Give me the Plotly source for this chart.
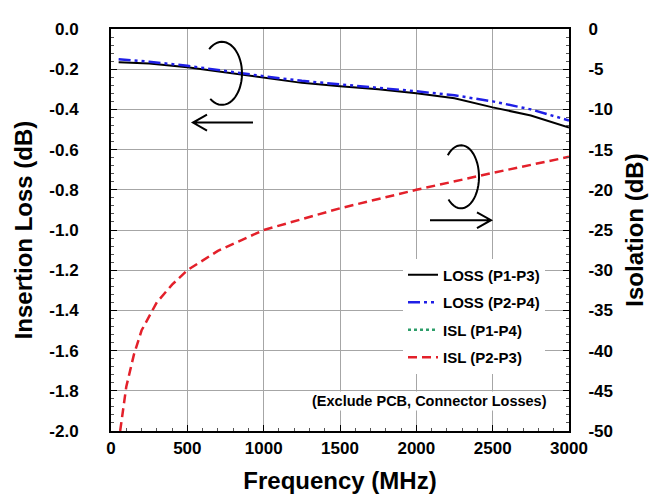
import numpy as np
import plotly.graph_objects as go

# ---------------- data ----------------
freq_loss = [50, 250, 500, 750, 1000, 1250, 1500, 1750, 2000, 2250, 2500, 2750, 3000]
loss_p1p3 = [-0.165, -0.172, -0.19, -0.215, -0.243, -0.268, -0.285, -0.30, -0.32, -0.345, -0.39, -0.43, -0.49]
loss_p2p4 = [-0.15, -0.163, -0.183, -0.21, -0.235, -0.258, -0.275, -0.29, -0.31, -0.33, -0.36, -0.40, -0.455]

freq_iso = [60, 80, 100, 150, 200, 300, 400, 500, 700, 1000, 1500, 2000, 2500, 3000]
iso_p2p3 = [-50, -47, -44.5, -40.5, -37.5, -34, -31.8, -30, -27.6, -25, -22.3, -20, -17.9, -15.9]
# ISL (P1-P4) appears only in the legend (no visible curve in the chart)
iso_p1p4_freq = [None]
iso_p1p4 = [None]

x_ticks = [0, 500, 1000, 1500, 2000, 2500, 3000]
x_ticklabels = ["0", "500", "1000", "1500", "2000", "2500", "3000"]
y1_ticks = [0.0, -0.2, -0.4, -0.6, -0.8, -1.0, -1.2, -1.4, -1.6, -1.8, -2.0]
y1_ticklabels = ["0.0", "-0.2", "-0.4", "-0.6", "-0.8", "-1.0", "-1.2", "-1.4", "-1.6", "-1.8", "-2.0"]
y2_ticks = [0, -5, -10, -15, -20, -25, -30, -35, -40, -45, -50]
y2_ticklabels = ["0", "-5", "-10", "-15", "-20", "-25", "-30", "-35", "-40", "-45", "-50"]

# ---------------- layout geometry ----------------
W, H = 663, 494
L, R, T, B = 103, 561, 15, 423


def px(x, y):
    return (x - L) / (R - L), (B - y) / (B - T)


def ellipse_path(cx, cy, rx, ry, a0, a1, n=40):
    ang = np.radians(np.linspace(a0, a1, n))
    pts = [px(cx + rx * np.cos(a), cy - ry * np.sin(a)) for a in ang]
    return "M " + " L ".join(f"{a:.4f},{b:.4f}" for a, b in pts)


def arrow_path(x0, x1, y, head):
    d = 1 if x1 > x0 else -1
    p = [px(x0, y), px(x1, y), px(x1 - d * head, y - 8), px(x1 - d * head, y + 8)]
    return (f"M {p[0][0]:.4f},{p[0][1]:.4f} L {p[1][0]:.4f},{p[1][1]:.4f} "
            f"M {p[2][0]:.4f},{p[2][1]:.4f} L {p[1][0]:.4f},{p[1][1]:.4f} L {p[3][0]:.4f},{p[3][1]:.4f}")


fig = go.Figure()
fig.add_trace(go.Scatter(x=freq_loss, y=loss_p1p3, name="LOSS (P1-P3)", mode="lines",
                         legendgroup="a", line=dict(color="black", width=2)))
fig.add_trace(go.Scatter(x=freq_loss, y=loss_p2p4, name="LOSS (P2-P4)", mode="lines",
                         legendgroup="b",
                         line=dict(color="#1f1fe6", width=2.5, dash="12px,4px,3px,4px,3px,4px")))
fig.add_trace(go.Scatter(x=iso_p1p4_freq, y=iso_p1p4, name="ISL (P1-P4)", mode="lines",
                         legendgroup="c", yaxis="y2", showlegend=True,
                         line=dict(color="#2e9e6a", width=2.5, dash="dot")))
fig.add_trace(go.Scatter(x=freq_iso, y=iso_p2p3, name="ISL (P2-P3)", mode="lines",
                         legendgroup="d", yaxis="y2",
                         line=dict(color="#e3202a", width=2.5, dash="9px,5px")))

grid = "#a6a6a6"
fig.update_layout(
    width=W, height=H,
    margin=dict(l=L, r=W - R, t=T, b=H - B),
    paper_bgcolor="white", plot_bgcolor="white",
    font=dict(family="Arial, Liberation Sans, sans-serif", color="black", size=17, weight="bold"),
    xaxis=dict(range=[0, 3000], tickvals=x_ticks, ticktext=x_ticklabels,
               showgrid=True, gridcolor=grid, gridwidth=1,
               showline=True, linecolor="black", linewidth=2, mirror=True,
               ticks="inside", ticklen=6, tickcolor="black", tickwidth=1,
               minor=dict(ticks="inside", dtick=100, ticklen=3, tickcolor="#555", showgrid=False),
               ticklabelstandoff=1,
               title=dict(text="Frequency (MHz)", font=dict(size=24), standoff=15),
               zeroline=False),
    yaxis=dict(range=[-2.0, 0.0], tickvals=y1_ticks, ticktext=y1_ticklabels,
               showgrid=True, gridcolor=grid, gridwidth=1,
               showline=True, linecolor="black", linewidth=2, mirror=True,
               ticks="inside", ticklen=6, tickcolor="black", tickwidth=1,
               minor=dict(ticks="inside", dtick=0.04, ticklen=3, tickcolor="#555", showgrid=False),
               ticklabelstandoff=27,
               title=dict(text="Insertion Loss (dB)", font=dict(size=24), standoff=10),
               zeroline=False),
    yaxis2=dict(range=[-50, 0], tickvals=y2_ticks, ticktext=y2_ticklabels,
                overlaying="y", side="right", showgrid=False,
                showline=True, linecolor="black", linewidth=2,
                ticks="inside", ticklen=6, tickcolor="black", tickwidth=1,
                minor=dict(ticks="inside", dtick=1, ticklen=3, tickcolor="#555"),
                ticklabelstandoff=14,
                title=dict(text="Isolation (dB)", font=dict(size=24), standoff=14),
                zeroline=False),
    legend=dict(x=px(537, 0)[0], xanchor="right", y=px(0, 248)[1], yanchor="top",
                bgcolor="white", borderwidth=0, font=dict(size=15),
                traceorder="grouped", tracegroupgap=5, itemwidth=30),
    showlegend=True,
)

fig.add_annotation(x=px(541, 0)[0], y=px(0, 393)[1], xref="paper", yref="paper",
                   xanchor="right", yanchor="middle", showarrow=False,
                   text="(Exclude PCB, Connector Losses)", font=dict(size=14.5),
                   bgcolor="white")

shape_style = dict(type="path", xref="paper", yref="paper", line=dict(color="black", width=2))
fig.add_shape(path=ellipse_path(214, 60, 20, 32, 130, -126), **shape_style)
fig.add_shape(path=ellipse_path(453, 165, 18, 32, 137, -134), **shape_style)
fig.add_shape(path=arrow_path(245, 185, 110, 14), **shape_style)
fig.add_shape(path=arrow_path(422, 483, 209, 14), **shape_style)

fig.write_html("out.html")
